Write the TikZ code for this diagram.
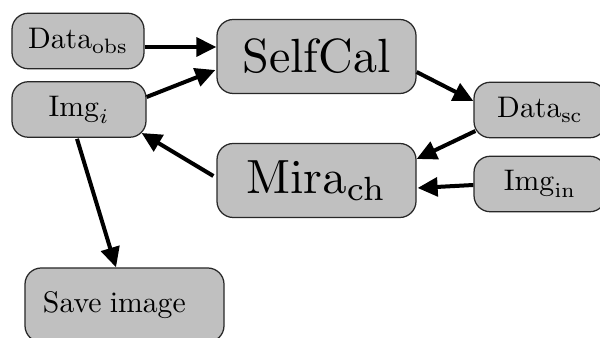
\documentclass[tikz,border=0pt]{standalone}
\usepackage{graphicx}
\usetikzlibrary{arrows.meta}
\definecolor{boxgray}{RGB}{192,192,192}
\definecolor{boxline}{RGB}{40,40,40}
\newcommand\smtxt[1]{\scalebox{1.19}{#1}}
\newcommand\bgtxt[1]{\scalebox{1.92}{#1}}
\begin{document}
\begin{tikzpicture}[x=0.4pt,y=-0.4pt,
  box/.style={draw=boxline,line width=0.5pt,fill=boxgray,rounded corners=6.5pt,inner sep=0pt},
  smallbox/.style={box,minimum width=52.8pt,minimum height=22.2pt},
  bigbox/.style={box,minimum width=79.6pt,minimum height=29.6pt},
  arr/.style={line width=1.6pt,-{Triangle[length=8pt,width=7.5pt]}}]
\useasboundingbox (0,0) rectangle (600,338);
\node[smallbox] (dobs) at (78,41) {\smtxt{$\mathrm{Data}_{\mathrm{obs}}$}};
\node[smallbox,minimum width=53.6pt] (imgi) at (79,109.5) {\smtxt{$\mathrm{Img}_i$}};
\node[bigbox] (selfcal) at (316.5,56.5) {\bgtxt{SelfCal}};
\node[bigbox] (mira) at (316.5,180.5) {\bgtxt{$\mathrm{Mira}_{\mathrm{ch}}$}};
\node[smallbox] (dsc) at (540,110) {\smtxt{$\mathrm{Data}_{\mathrm{sc}}$}};
\node[smallbox] (imgin) at (540,184) {\smtxt{$\mathrm{Img}_{\mathrm{in}}$}};
\node[box,minimum height=29.6pt,text width=65.2pt,align=left,inner xsep=7.2pt] (save) at (124.5,305) {\smtxt{Save\hspace{-0.6pt} image}};
\draw[arr] (dobs.east |- 0,47) -- (selfcal.west |- 0,47);
\draw[arr] ([shift={(0,-12.5)}]imgi.east) -- ([shift={(-1,13.5)}]selfcal.west);
\draw[arr] ([shift={(0,15.5)}]selfcal.east) -- ([shift={(0,-9)}]dsc.west);
\draw[arr] ([shift={(2,21)}]dsc.west) -- ([shift={(0,-21.5)}]mira.east);
\draw[arr] ([shift={(0,1)}]imgin.west) -- ([shift={(1,7.5)}]mira.east);
\draw[arr] ([shift={(-3,-4.5)}]mira.west) -- ([shift={(-5,23.5)}]imgi.east);
\draw[arr] ([shift={(-2,1)}]imgi.south) -- ([shift={(-8.5,0)}]save.north);
\end{tikzpicture}
\end{document}
